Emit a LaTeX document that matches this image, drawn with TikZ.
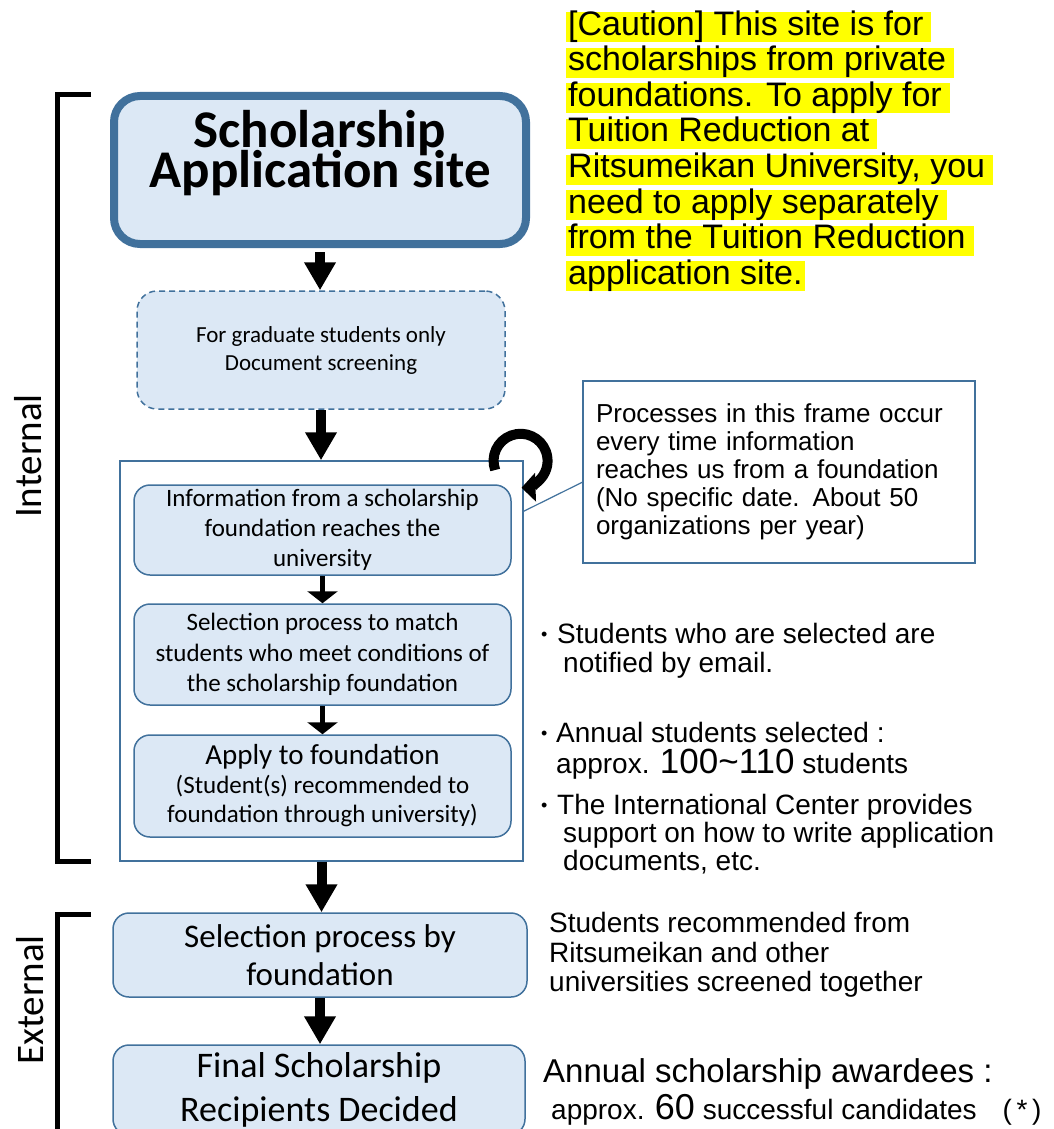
\documentclass[tikz,border=0pt]{standalone}
\usepackage{fontspec}
\setmainfont{Liberation Sans}
\newfontfamily\calfont{Carlito}
\usetikzlibrary{arrows.meta,calc}
\definecolor{boxfill}{RGB}{220,232,245}
\definecolor{boxline}{RGB}{65,113,156}
\definecolor{hl}{RGB}{255,255,0}
\newcommand{\bul}{\raisebox{3pt}{\fontsize{18}{18}\selectfont •}}
\newcommand{\tightlines}{\lineskiplimit=-50pt\relax}
\begin{document}
\begin{tikzpicture}[x=1pt,y=-1pt,
  box/.style={draw=boxline, fill=boxfill, rounded corners=16pt, line width=1.5pt, align=center, inner sep=0pt},
  bigarrow/.style={line width=10pt, -{Triangle[length=28pt,width=30pt]}},
  smallarrow/.style={line width=5pt, -{Triangle[length=12pt,width=30pt]}},
  bracketline/.style={line width=5pt},
  sidetext/.style={anchor=west, align=left, inner sep=0pt},
  hlline/.style={anchor=west, fill=hl, inner xsep=2pt, inner ysep=0pt, text height=23pt, text depth=7pt, font=\fontsize{34}{35}\selectfont}
]
\useasboundingbox (0,0) rectangle (1054,1129);
\clip (0,0) rectangle (1054,1129);

% caution text
\node[hlline] (cau1) at (566,27.5) {[Caution] This site is for\hspace*{6pt}};
\node[hlline] (cau2) at (566,63) {scholarships from private\hspace*{6pt}};
\node[hlline] (cau3) at (566,98.5) {foundations. To apply for\hspace*{6pt}};
\node[hlline] (cau4) at (566,134) {Tuition Reduction at\hspace*{6pt}};
\node[hlline] (cau5) at (566,169.5) {Ritsumeikan University, you\hspace*{6pt}};
\node[hlline] (cau6) at (566,205) {need to apply separately\hspace*{6pt}};
\node[hlline] (cau7) at (566,240.5) {from the Tuition Reduction\hspace*{6pt}};
\node[hlline] (cau8) at (566,276) {application site.};

% brackets
\draw[bracketline] (91,95) -- (57,95) -- (57,861) -- (91,861);
\draw[bracketline] (91,914) -- (57,914) -- (57,1131) -- (93,1131);
\node[rotate=90, font=\calfont\fontsize{39}{39}\selectfont] (internal) at (28,456) {Internal};
\node[rotate=90, font=\calfont\fontsize{39}{39}\selectfont] (external) at (30,1000) {External};

% main boxes
\node[box, line width=8pt, rounded corners=26pt, minimum width=412pt, minimum height=148pt] (title) at (320,170) {};
\node[font=\calfont\bfseries\fontsize{53}{40}\selectfont\tightlines, align=center] (titletxt) at (320,153) {Scholarship\\Application site};

\node[box, dashed, dash pattern=on 6pt off 4pt, rounded corners=20pt, minimum width=368pt, minimum height=118pt, font=\calfont\fontsize{23}{28}\selectfont] (screen) at (321,350) {For graduate students only\\Document screening};

\node[draw=boxline, line width=1.5pt, minimum width=403pt, minimum height=400pt, inner sep=0pt] (frame) at (321.5,661) {};

\node[box, minimum width=377pt, minimum height=90pt, font=\calfont\fontsize{25}{30}\selectfont] (info) at (322.5,530) {Information from a scholarship\\foundation reaches the\\university};
\node[box, minimum width=377pt, minimum height=101pt, font=\calfont\fontsize{25}{30.5}\selectfont] (match) at (322.5,654.5) {Selection process to match\\students who meet conditions of\\the scholarship foundation};
\node[box, minimum width=377pt, minimum height=102pt, font=\calfont\fontsize{25}{29}\selectfont] (apply) at (322.5,786) {{\fontsize{29}{34}\selectfont Apply to foundation}\\(Student(s) recommended to\\foundation through university)};

\node[box, minimum width=414pt, minimum height=84pt, font=\calfont\fontsize{33}{38}\selectfont] (fsel) at (320,955) {Selection process by\\foundation};
\node[box, minimum width=412pt, minimum height=90pt, font=\calfont\fontsize{36}{44}\selectfont] (final) at (319,1090) {Final Scholarship\\Recipients Decided};

% arrows
\draw[bigarrow] ($(title.south)+(0,4)$) -- (title.south |- screen.north);
\draw[bigarrow] (screen.south) -- (screen.south |- frame.north);
\draw[smallarrow] (info.south) -- (info.south |- match.north);
\draw[smallarrow] (match.south) -- (match.south |- apply.north);
\draw[bigarrow] (frame.south) -- (frame.south |- fsel.north);
\draw[bigarrow] (fsel.south) -- (fsel.south |- final.north);

% loop icon
\draw[line width=10pt, -{Triangle[length=14pt,width=28pt]}] (495.2,470) arc[start angle=-200, end angle=88, radius=27];

% notes box
\node[draw=boxline, line width=1.5pt, minimum width=392pt, minimum height=182pt, text width=366pt, inner xsep=12pt, align=left, font=\fontsize{26}{28}\selectfont] (notes) at (779,472) {Processes in this frame occur\\every time information\\reaches us from a foundation\\(No specific date. About 50\\organizations per year)};
\draw[boxline, line width=1.2pt] ($(frame.north east)+(0,51)$) -- ($(notes.north west)+(0,102)$);

% side texts
\node[sidetext, font=\fontsize{28}{29}\selectfont] (b1) at (541,650.5) {\makebox[16pt][l]{\bul}Students who are selected are\\\hspace*{22pt}notified by email.};
\node[sidetext, font=\fontsize{28}{31}\selectfont] (b2) at (541,751) {\makebox[15pt][l]{\bul}Annual students selected :\\\hspace*{15pt}approx. {\fontsize{35}{31}\selectfont 100\textasciitilde110} students};
\node[sidetext, font=\fontsize{28}{28}\selectfont] (b3) at (541,834) {\makebox[16pt][l]{\bul}The International Center provides\\\hspace*{22pt}support on how to write application\\\hspace*{22pt}documents, etc.};
\node[sidetext, font=\fontsize{28}{29.5}\selectfont] (d1) at (549,955) {Students recommended from\\Ritsumeikan and other\\universities screened together};
\node[sidetext, font=\fontsize{33}{33}\selectfont] (e1) at (543,1074) {Annual scholarship awardees :};
\node[sidetext, font=\fontsize{28}{28}\selectfont] (e2) at (551,1110) {approx. {\fontsize{36}{30}\selectfont 60} successful candidates\hspace{26pt}(\,*\,)};
\end{tikzpicture}
\end{document}
